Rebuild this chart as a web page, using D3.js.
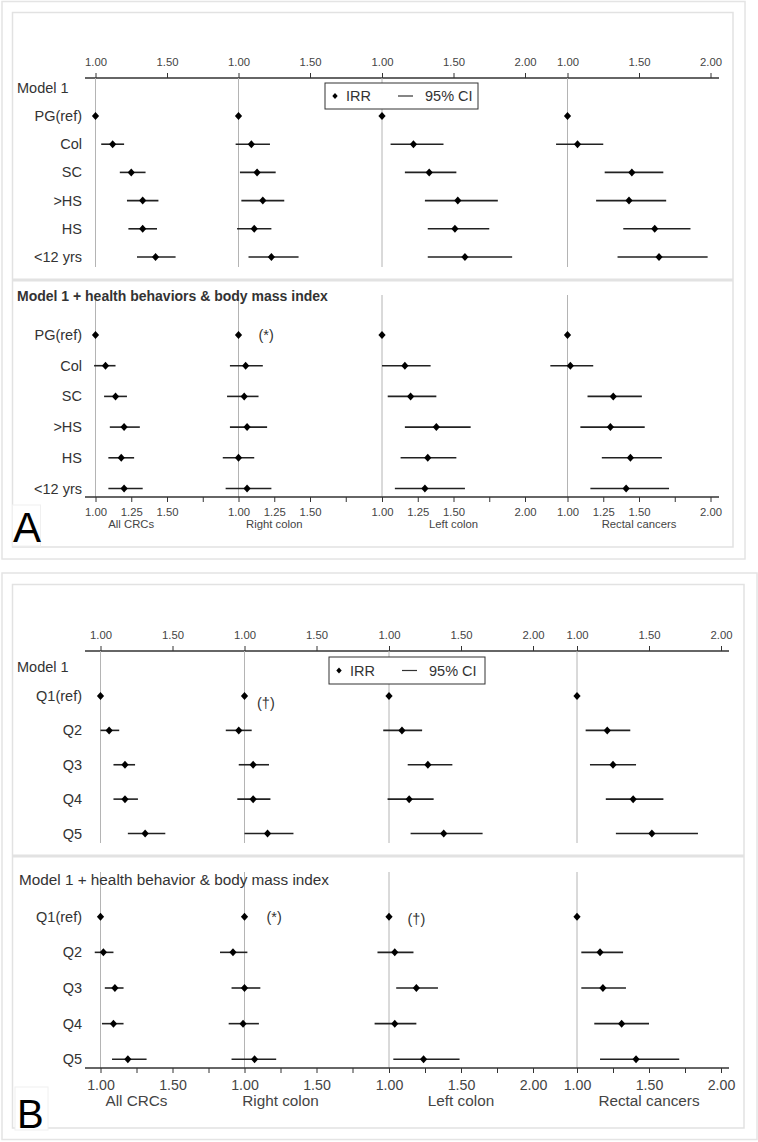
<!DOCTYPE html>
<html>
<head>
<meta charset="utf-8">
<script src="https://cdn.jsdelivr.net/npm/d3@7"></script>
<style>
  html, body { margin: 0; padding: 0; background: #fff; }
  svg { display: block; font-family: "Liberation Sans", Arial, sans-serif; }
</style>
</head>
<body>
<svg id="chart" width="758" height="1142"></svg>
<script>
// ---------------- DATA ----------------
const columns = ["All CRCs", "Right colon", "Left colon", "Rectal cancers"];
const rowsA = ["PG(ref)", "Col", "SC", ">HS", "HS", "<12 yrs"];
const rowsB = ["Q1(ref)", "Q2", "Q3", "Q4", "Q5"];

const topTicksShort = [1.00, 1.50];
const topTicksLong = [1.00, 1.50, 2.00];
const botTicksShort = [1.00, 1.25, 1.50, 1.75];
const botTicksLong = [1.00, 1.25, 1.50, 1.75, 2.00];
const botLabelsA = [1.00, 1.25, 1.50, 2.00];
const botLabelsB = [1.00, 1.50, 2.00];

// Panel A, Model 1 (per column: All CRCs, Right, Left, Rectal)
const aM1Irr = [[1.00,1.12,1.25,1.33,1.33,1.42],[1.00,1.09,1.13,1.17,1.11,1.23],[1.00,1.22,1.33,1.53,1.51,1.58],[1.00,1.07,1.45,1.43,1.61,1.64]];
const aM1Lo  = [[null,1.04,1.17,1.22,1.23,1.29],[null,0.98,1.01,1.02,0.99,1.07],[null,1.06,1.16,1.30,1.32,1.32],[null,0.92,1.26,1.20,1.39,1.35]];
const aM1Hi  = [[null,1.20,1.35,1.44,1.43,1.56],[null,1.22,1.26,1.32,1.23,1.42],[null,1.43,1.52,1.81,1.75,1.91],[null,1.25,1.67,1.69,1.86,1.98]];
// Panel A, Model 1 + health behaviors & BMI
const aM2Irr = [[1.00,1.07,1.14,1.20,1.18,1.20],[1.00,1.05,1.04,1.06,1.00,1.06],[1.00,1.16,1.20,1.38,1.32,1.30],[1.00,1.02,1.32,1.30,1.44,1.41]];
const aM2Lo  = [[null,0.99,1.06,1.10,1.09,1.09],[null,0.94,0.92,0.94,0.89,0.91],[null,1.00,1.04,1.16,1.13,1.09],[null,0.88,1.14,1.09,1.24,1.16]];
const aM2Hi  = [[null,1.14,1.22,1.31,1.27,1.33],[null,1.17,1.14,1.20,1.11,1.23],[null,1.34,1.38,1.62,1.52,1.58],[null,1.18,1.52,1.54,1.66,1.71]];
// Panel B, Model 1
const bM1Irr = [[1.00,1.06,1.17,1.17,1.31],[1.00,0.96,1.06,1.06,1.16],[1.00,1.09,1.27,1.14,1.38],[1.00,1.21,1.25,1.39,1.52]];
const bM1Lo  = [[null,1.00,1.09,1.09,1.19],[null,0.87,0.96,0.95,1.00],[null,0.96,1.13,0.99,1.15],[null,1.06,1.09,1.20,1.27]];
const bM1Hi  = [[null,1.13,1.24,1.26,1.45],[null,1.05,1.17,1.18,1.34],[null,1.23,1.44,1.31,1.65],[null,1.37,1.41,1.60,1.84]];
// Panel B, Model 1 + health behavior & BMI
const bM2Irr = [[1.00,1.02,1.10,1.09,1.19],[1.00,0.92,1.00,0.99,1.07],[1.00,1.04,1.19,1.04,1.24],[1.00,1.16,1.18,1.31,1.41]];
const bM2Lo  = [[null,0.96,1.03,1.01,1.08],[null,0.83,0.91,0.89,0.91],[null,0.92,1.05,0.90,1.03],[null,1.03,1.03,1.12,1.16]];
const bM2Hi  = [[null,1.09,1.16,1.16,1.32],[null,1.02,1.11,1.10,1.22],[null,1.17,1.34,1.19,1.49],[null,1.32,1.34,1.50,1.71]];

const legendIRR = "IRR";
const legendCI = "95% CI";

// ---------------- LAYOUT ----------------
const svg = d3.select("#chart");
const FONT = '"Liberation Sans", Arial, sans-serif';
const diamond = "M0,-4L3.6,0L0,4L-3.6,0Z";

function frame(outer, inner, sepY) {
  svg.append("rect").attr("x", outer[0]).attr("y", outer[1]).attr("width", outer[2]-outer[0]).attr("height", outer[3]-outer[1])
    .attr("fill", "#fff").attr("stroke", "#e4e4e4").attr("stroke-width", 1.5);
  svg.append("rect").attr("x", inner[0]).attr("y", inner[1]).attr("width", inner[2]-inner[0]).attr("height", inner[3]-inner[1])
    .attr("fill", "#fff").attr("stroke", "#e2e2e2").attr("stroke-width", 1.5);
  svg.append("line").attr("x1", inner[0]).attr("x2", inner[2]).attr("y1", sepY).attr("y2", sepY)
    .attr("stroke", "#e2e2e2").attr("stroke-width", 3);
}

function makeScales(x0s, unit) {
  return x0s.map(x0 => d3.scaleLinear().domain([1, 2]).range([x0, x0 + unit]));
}

function topAxis(scales, y, xStart, xEnd, fs) {
  svg.append("line").attr("x1", xStart).attr("x2", xEnd).attr("y1", y).attr("y2", y)
    .attr("stroke", "#333").attr("stroke-width", 1.3);
  scales.forEach((s, i) => {
    const ticks = i < 2 ? topTicksShort : topTicksLong;
    const g = svg.append("g").attr("transform", `translate(0,${y})`)
      .call(d3.axisTop(s).tickValues(ticks).tickSize(5).tickPadding(7).tickFormat(d3.format(".2f")));
    g.select(".domain").remove();
    g.selectAll(".tick line").attr("stroke", "#333").attr("stroke-width", 1);
    g.selectAll(".tick text").attr("font-family", FONT).attr("font-size", fs).attr("fill", "#444");
  });
}

function bottomAxis(scales, y, xStart, xEnd, fs, pad, labelVals, titleFs, titleDy) {
  svg.append("line").attr("x1", xStart).attr("x2", xEnd).attr("y1", y).attr("y2", y)
    .attr("stroke", "#333").attr("stroke-width", 1.3);
  scales.forEach((s, i) => {
    const ticks = i < 2 ? botTicksShort : botTicksLong;
    const g = svg.append("g").attr("transform", `translate(0,${y})`)
      .call(d3.axisBottom(s).tickValues(ticks).tickSize(5).tickPadding(pad)
        .tickFormat(d => labelVals.includes(d) ? d3.format(".2f")(d) : ""));
    g.select(".domain").remove();
    g.selectAll(".tick line").attr("stroke", "#333").attr("stroke-width", 1);
    g.selectAll(".tick text").attr("font-family", FONT).attr("font-size", fs).attr("fill", "#444");
    svg.append("text").attr("x", s(i < 2 ? 1.25 : 1.5)).attr("y", y + titleDy)
      .attr("text-anchor", "middle").attr("font-family", FONT).attr("font-size", titleFs)
      .attr("fill", "#444").text(columns[i]);
  });
}

function subPanel(cfg) {
  const y = d3.scalePoint().domain(cfg.rows).range([cfg.yFirst, cfg.yLast]);
  // reference lines
  cfg.scales.forEach(s => {
    svg.append("line").attr("x1", s(1)).attr("x2", s(1)).attr("y1", cfg.refTop).attr("y2", cfg.refBottom)
      .attr("stroke", "#b4b4b4").attr("stroke-width", 1);
  });
  // row labels
  svg.append("g").selectAll("text").data(cfg.rows).join("text")
    .attr("x", cfg.labelX).attr("y", d => y(d)).attr("dy", "0.35em")
    .attr("text-anchor", "end").attr("font-family", FONT).attr("font-size", cfg.labelFs)
    .attr("fill", "#333").text(d => d);
  // title
  svg.append("text").attr("x", cfg.titleX).attr("y", cfg.titleY).attr("dy", "0.35em")
    .attr("font-family", FONT).attr("font-size", cfg.titleFs).attr("font-weight", cfg.titleBold ? "bold" : "normal")
    .attr("fill", "#333").text(cfg.title);
  // marks
  cfg.scales.forEach((s, c) => {
    const pts = cfg.rows.map((r, i) => ({ r, irr: cfg.irr[c][i], lo: cfg.lo[c][i], hi: cfg.hi[c][i] }));
    const g = svg.append("g");
    g.selectAll("line.ci").data(pts.filter(d => d.lo != null)).join("line")
      .attr("class", "ci")
      .attr("x1", d => s(d.lo)).attr("x2", d => s(d.hi))
      .attr("y1", d => y(d.r)).attr("y2", d => y(d.r))
      .attr("stroke", "#222").attr("stroke-width", 1.6);
    g.selectAll("path.pt").data(pts).join("path")
      .attr("class", "pt").attr("d", diamond)
      .attr("transform", d => `translate(${s(d.irr)},${y(d.r)})`)
      .attr("fill", "#000");
  });
  // annotations
  (cfg.notes || []).forEach(n => {
    const s = cfg.scales[n.col];
    svg.append("text").attr("x", s(1) + n.dx).attr("y", y(cfg.rows[n.row]) + n.dy).attr("dy", "0.35em")
      .attr("font-family", FONT).attr("font-size", cfg.labelFs).attr("fill", "#333").text(n.text);
  });
}

function legend(x1, y1, x2, y2, fs) {
  const cy = (y1 + y2) / 2;
  svg.append("rect").attr("x", x1).attr("y", y1).attr("width", x2 - x1).attr("height", y2 - y1)
    .attr("fill", "#fff").attr("stroke", "#333").attr("stroke-width", 1);
  svg.append("path").attr("d", "M0,-3L2.7,0L0,3L-2.7,0Z").attr("transform", `translate(${x1 + 10},${cy})`).attr("fill", "#000");
  svg.append("text").attr("x", x1 + 21).attr("y", cy).attr("dy", "0.35em").attr("font-family", FONT)
    .attr("font-size", fs).attr("fill", "#333").text(legendIRR);
  svg.append("line").attr("x1", x1 + 73).attr("x2", x1 + 88).attr("y1", cy).attr("y2", cy)
    .attr("stroke", "#333").attr("stroke-width", 1.2);
  svg.append("text").attr("x", x1 + 100).attr("y", cy).attr("dy", "0.35em").attr("font-family", FONT)
    .attr("font-size", fs).attr("fill", "#333").text(legendCI);
}

function panelLetter(txt, bx, by, bw, bh, tx, ty, fs) {
  svg.append("rect").attr("x", bx).attr("y", by).attr("width", bw).attr("height", bh)
    .attr("fill", "#fff").attr("stroke", "#f0f0f0").attr("stroke-width", 1);
  svg.append("text").attr("x", tx).attr("y", ty).attr("font-family", FONT).attr("font-size", fs)
    .attr("fill", "#000").text(txt);
}

// ---------------- PANEL A ----------------
frame([2, 1.5, 745, 559], [12.5, 12.5, 733, 547], 280);
const scalesA = makeScales([95.5, 238.5, 382, 567.5], 143);
topAxis(scalesA, 78, 85, 719, 11.3);
subPanel({ rows: rowsA, yFirst: 116, yLast: 257, scales: scalesA, irr: aM1Irr, lo: aM1Lo, hi: aM1Hi,
  refTop: 78, refBottom: 267, labelX: 82, labelFs: 14.5, title: "Model 1", titleX: 17, titleY: 88, titleFs: 14.5 });
legend(325, 83, 478, 109, 14.5);
subPanel({ rows: rowsA, yFirst: 335, yLast: 488.5, scales: scalesA, irr: aM2Irr, lo: aM2Lo, hi: aM2Hi,
  refTop: 295, refBottom: 497, labelX: 82, labelFs: 14.5, title: "Model 1 + health behaviors & body mass index",
  titleX: 17, titleY: 296, titleFs: 14, titleBold: true,
  notes: [{ col: 1, row: 0, dx: 20, dy: 0, text: "(*)" }] });
bottomAxis(scalesA, 497, 85, 719, 11.3, 5.5, botLabelsA, 11.3, 31);
panelLetter("A", 12.5, 505, 28, 41, 13, 542, 42);

// ---------------- PANEL B ----------------
frame([2, 573, 757, 1139.5], [12.5, 584.5, 744, 1128], 856);
const scalesB = makeScales([100.5, 244.5, 389, 577], 144);
topAxis(scalesB, 651, 85, 729, 11.3);
subPanel({ rows: rowsB, yFirst: 696, yLast: 833.5, scales: scalesB, irr: bM1Irr, lo: bM1Lo, hi: bM1Hi,
  refTop: 651, refBottom: 843, labelX: 82, labelFs: 14.5, title: "Model 1", titleX: 17, titleY: 667, titleFs: 14.5,
  notes: [{ col: 1, row: 0, dx: 12.5, dy: 6.5, text: "(†)" }] });
legend(329, 657, 485, 684, 14.5);
subPanel({ rows: rowsB, yFirst: 916.7, yLast: 1059.3, scales: scalesB, irr: bM2Irr, lo: bM2Lo, hi: bM2Hi,
  refTop: 872, refBottom: 1068, labelX: 82, labelFs: 14.5, title: "Model 1 + health behavior & body mass index",
  titleX: 19, titleY: 879.5, titleFs: 15.3,
  notes: [{ col: 1, row: 0, dx: 22, dy: 0, text: "(*)" }, { col: 2, row: 0, dx: 18.5, dy: 2.3, text: "(†)" }] });
bottomAxis(scalesB, 1068, 85, 729, 14.2, 6.5, botLabelsB, 15.3, 38);
panelLetter("B", 15, 1087, 33, 43, 17, 1128, 40);
</script>
</body>
</html>
